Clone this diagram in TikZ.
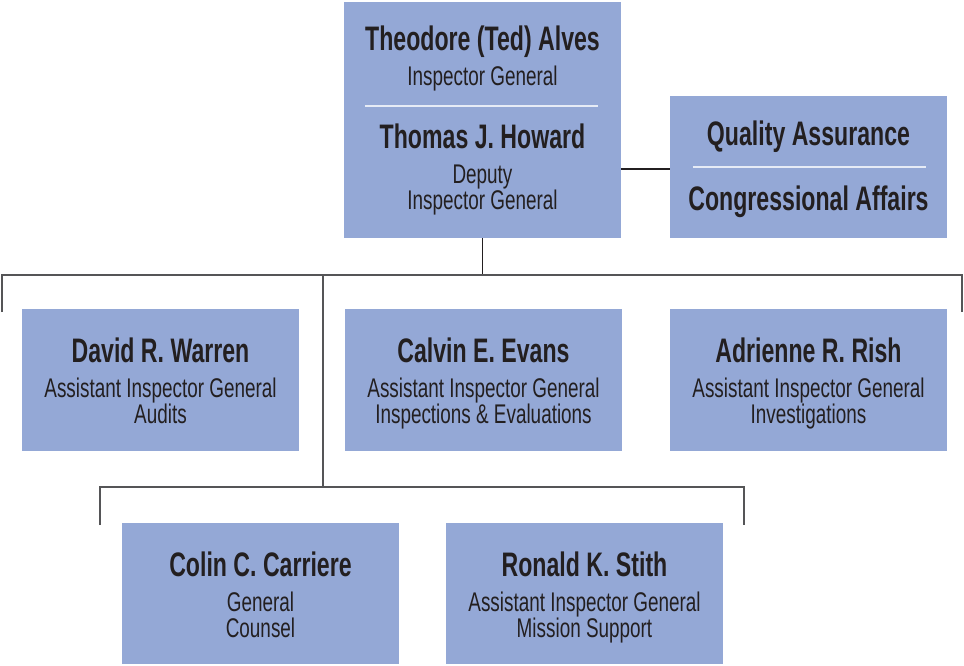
\documentclass[tikz,border=0pt]{standalone}
\usepackage{fontspec}
\setmainfont{Liberation Sans}
\newfontfamily\namefont[FakeStretch=0.68]{Liberation Sans}
\newfontfamily\rolefont[FakeStretch=0.70]{Liberation Sans}
\definecolor{boxblue}{HTML}{94A8D6}
\definecolor{inkgray}{HTML}{231F20}
\definecolor{busgray}{HTML}{555557}
\definecolor{rulewhite}{HTML}{E6EBF6}

\begin{document}
\begin{tikzpicture}[x=1pt,y=-1pt]

      \tikzset{office/.style={rectangle, fill=boxblue, inner sep=0pt, minimum width=277pt, minimum height=142pt},
               headline/.style={anchor=base, inner sep=0pt, text=inkgray, font=\namefont\bfseries\fontsize{34}{34}\selectfont},
               roleline/.style={anchor=base, inner sep=0pt, text=inkgray, font=\rolefont\fontsize{27}{27}\selectfont},
               link/.style={draw=inkgray, line width=1.3pt},
               bus/.style={draw=busgray, line width=1.9pt},
               divider/.style={draw=rulewhite, line width=1.6pt}}
      \useasboundingbox (0,0) rectangle (964,665);
%% Boxes
      \node[office, minimum height=236pt] (ig) at (482.5,120) {};
      \node[office] (qa) at (808.5,167) {};
      \node[office] (warren) at (160.5,380) {};
      \node[office] (evans) at (483.5,380) {};
      \node[office] (rish) at (808.5,380) {};
      \node[office, minimum height=141pt] (carriere) at (260.5,593.5) {};
      \node[office, minimum height=141pt] (stith) at (584.5,593.5) {};
%% Box texts
      \node[headline] (alves) at (482.5,50) {Theodore (Ted) Alves};
      \node[roleline] (alvesrole) at (482.5,85) {Inspector General};
      \node[headline] (howard) at (482.5,148) {Thomas J. Howard};
      \node[roleline] (howardrole) at (482.5,183) {Deputy};
      \node[roleline] (howardrolei) at (482.5,209) {Inspector General};
      \node[headline] (quality) at (808.5,145) {Quality Assurance};
      \node[headline] (congress) at (808.5,210) {Congressional Affairs};
      \node[headline] (warrenname) at (160.5,362) {David R. Warren};
      \node[roleline] (warrenrole) at (160.5,397) {Assistant Inspector General};
      \node[roleline] (warrenrolei) at (160.5,423) {Audits};
      \node[headline] (evansname) at (483.5,362) {Calvin E. Evans};
      \node[roleline] (evansrole) at (483.5,397) {Assistant Inspector General};
      \node[roleline] (evansrolei) at (483.5,423) {Inspections \& Evaluations};
      \node[headline] (rishname) at (808.5,362) {Adrienne R. Rish};
      \node[roleline] (rishrole) at (808.5,397) {Assistant Inspector General};
      \node[roleline] (rishrolei) at (808.5,423) {Investigations};
      \node[headline] (carrierename) at (260.5,576) {Colin C. Carriere};
      \node[roleline] (carrierole) at (260.5,611) {General};
      \node[roleline] (carrierolei) at (260.5,637) {Counsel};
      \node[headline] (stithname) at (584.5,576) {Ronald K. Stith};
      \node[roleline] (stithrole) at (584.5,611) {Assistant Inspector General};
      \node[roleline] (stithrolei) at (584.5,637) {Mission Support};
%% Dividers inside the two split boxes
      \draw[divider] ([xshift=21pt]ig.west |- 0,106) -- ([xshift=-23pt]ig.east |- 0,106);
      \draw[divider] ([xshift=23pt]qa.west |- 0,167) -- ([xshift=-21pt]qa.east |- 0,167);
%Lines
      \coordinate (hub) at (482.5,275);
      \coordinate (westdrop) at (2,312);
      \coordinate (eastdrop) at (962,312);
      \coordinate (fork) at (323,275);
      \coordinate (subhub) at (323,487);
      \coordinate (lowwest) at (100,525);
      \coordinate (loweast) at (744,525);
      \draw[link] (ig.south) -- (hub);
      \draw[link] (ig.east |- 0,169) -- (qa.west |- 0,169);
      \draw[bus] (westdrop) |- (hub) -| (eastdrop);
      \draw[bus] (fork) -- (subhub);
      \draw[bus] (lowwest) |- (subhub) -| (loweast);

\end{tikzpicture}
\end{document}
